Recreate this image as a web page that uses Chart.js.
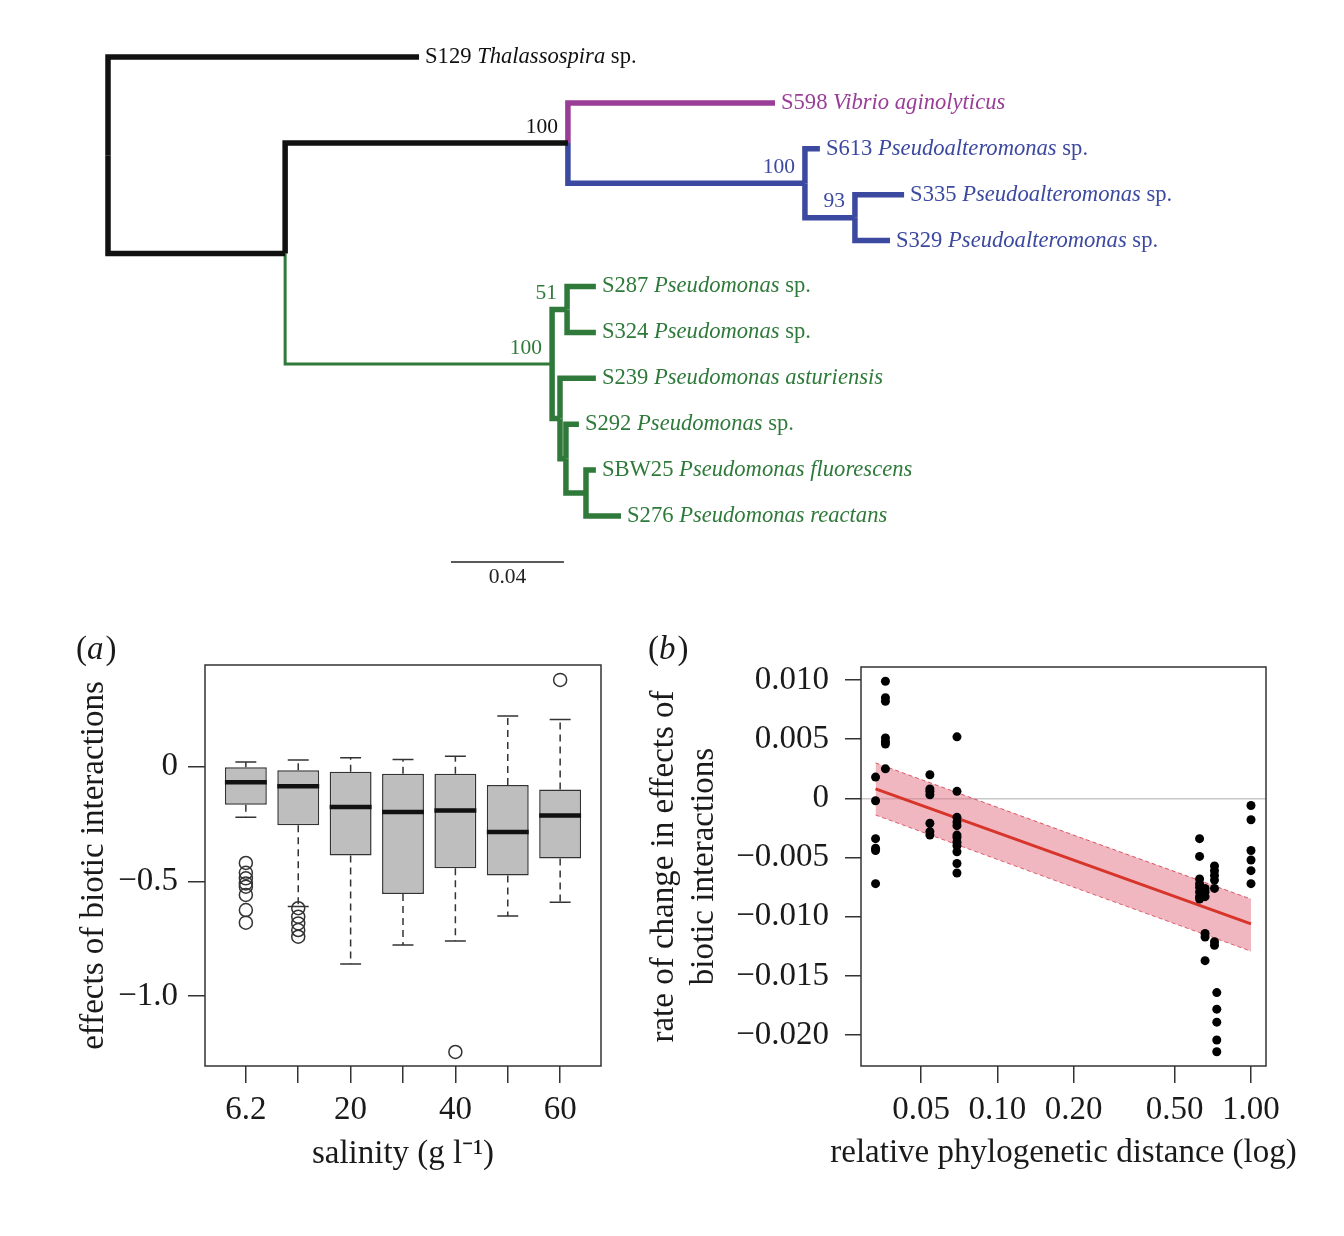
<!DOCTYPE html>
<html>
<head>
  <title>Phylogeny and biotic interactions</title>
  <script src="https://cdn.jsdelivr.net/npm/chart.js"></script>
  <style>
    body { margin: 0; background: #fff; }
    #wrap { position: relative; width: 1344px; height: 1236px; }
    canvas { position: absolute; }
    #treeChart { left: 0; top: 0; }
    #boxChart { left: 0; top: 620px; }
    #distChart { left: 640px; top: 620px; }
  </style>
</head>
<body>
<div id="wrap">
  <canvas id="treeChart" width="1344" height="600"></canvas>
  <canvas id="boxChart" width="640" height="600"></canvas>
  <canvas id="distChart" width="704" height="600"></canvas>
</div>

<script>
// ---- tree: node, parent, cumulative branch length from the root ----
const nodeIds    = ['root','S129','A','B','S598','C','S613','D','S335','S329','E','F','S287','S324','G','S239','H','S292','J','SBW25','S276'];
const nodeParent = [null,'root','root','A','B','B','C','C','D','D','A','E','F','F','E','G','G','H','H','J','J'];
const nodeDepth  = [0,0.1101,0.0627,0.1628,0.2361,0.2467,0.2520,0.2644,0.2818,0.2768,0.1572,0.1625,0.1727,0.1727,0.1600,0.1727,0.1621,0.1667,0.1692,0.1727,0.1816];
const nodeClade  = ['out','out','out','out','vib','alt','alt','alt','alt','alt','pse','pse','pse','pse','pse','pse','pse','pse','pse','pse','pse'];

// tips, top to bottom
const tipIds    = ['S129','S598','S613','S335','S329','S287','S324','S239','S292','SBW25','S276'];
const tipTaxa   = ['Thalassospira','Vibrio aginolyticus','Pseudoalteromonas','Pseudoalteromonas','Pseudoalteromonas',
                   'Pseudomonas','Pseudomonas','Pseudomonas asturiensis','Pseudomonas','Pseudomonas fluorescens','Pseudomonas reactans'];
const tipSuffix = [' sp.','',' sp.',' sp.',' sp.',' sp.',' sp.','',' sp.','',''];

// bootstrap support
const bootNodes  = ['B','C','D','F','E'];
const bootValues = [100,100,93,51,100];

const scaleBarStart = 0.1214;
const scaleBarLength = 0.04;

// ---- (a) boxplots by salinity ----
const salinityPos    = [1,2,3,4,5,6,7];
const salinityLabels = ['6.2','','20','','40','','60'];
const whiskerHigh = [0.020, 0.028, 0.038, 0.031, 0.045, 0.220, 0.205];
const boxQ3       = [-0.003, -0.016, -0.023, -0.032, -0.032, -0.080, -0.100];
const boxMedian   = [-0.068, -0.086, -0.176, -0.198, -0.192, -0.285, -0.213];
const boxQ1       = [-0.166, -0.256, -0.387, -0.555, -0.443, -0.475, -0.400];
const whiskerLow  = [-0.221, -0.610, -0.860, -0.777, -0.760, -0.651, -0.591];
const outlierPos   = [1,1,1,1,1,1,1,1,2,2,2,2,2,5,7];
const outlierValue = [-0.420,-0.463,-0.487,-0.509,-0.523,-0.559,-0.625,-0.680,-0.617,-0.654,-0.683,-0.712,-0.741,-1.243,0.377];
const yTicksA  = [0, -0.5, -1.0];
const yLabelsA = ['0', '\u22120.5', '\u22121.0'];

// ---- (b) rate of change vs phylogenetic distance ----
const distX = [
  0.0331,0.0331,0.0331,0.0331,0.0331,0.0331,
  0.0362,0.0362,0.0362,0.0362,0.0362,0.0362,0.0362,
  0.0542,0.0542,0.0542,0.0542,0.0542,0.0542,0.0542,
  0.0693,0.0693,0.0693,0.0693,0.0693,0.0693,0.0693,0.0693,0.0693,0.0693,0.0693,0.0693,
  0.627,0.627,0.627,0.627,0.627,0.627,0.627,0.627,
  0.659,0.659,0.659,0.659,0.659,0.659,
  0.718,0.718,0.718,0.718,0.718,0.718,0.718,
  0.733,0.733,0.733,0.733,0.733,
  1.0,1.0,1.0,1.0,1.0,1.0
];
const rateY = [
  0.0018,-0.0002,-0.0034,-0.0042,-0.0044,-0.0072,
  0.0099,0.0085,0.0082,0.0051,0.0048,0.0046,0.0025,
  0.0020,0.0008,0.0006,0.0003,-0.0021,-0.0028,-0.0031,
  0.0052,0.0006,-0.0016,-0.0020,-0.0023,-0.0031,-0.0033,-0.0037,-0.0040,-0.0045,-0.0055,-0.0063,
  -0.0034,-0.0049,-0.0068,-0.0072,-0.0075,-0.0079,-0.0083,-0.0085,
  -0.0076,-0.0079,-0.0083,-0.0114,-0.0117,-0.0137,
  -0.0057,-0.0061,-0.0065,-0.0069,-0.0076,-0.0121,-0.0124,
  -0.0164,-0.0178,-0.0189,-0.0204,-0.0214,
  -0.0006,-0.0018,-0.0044,-0.0052,-0.0061,-0.0072
];
const fitX = [0.0331, 1.0];
const fitY = [0.0008, -0.0106];
const bandX     = [0.0331, 0.2, 1.0];
const bandUpper = [0.0030, -0.0031, -0.0085];
const bandLower = [-0.0014, -0.0075, -0.0129];
const xTicksB  = [0.05, 0.1, 0.2, 0.5, 1.0];
const xLabelsB = ['0.05','0.10','0.20','0.50','1.00'];
const yTicksB  = [0.01, 0.005, 0, -0.005, -0.01, -0.015, -0.02];
const yLabelsB = ['0.010','0.005','0','\u22120.005','\u22120.010','\u22120.015','\u22120.020'];

const SERIF = '"Liberation Serif", "Times New Roman", serif';
Chart.defaults.font.family = SERIF;
Chart.defaults.color = '#1a1a1a';

const cladeColor = { out: '#111111', vib: '#9a3d97', alt: '#3c49a0', pse: '#2f7a3a' };

// y position of every node: tips by order, inner nodes midway between first and last child
const nodeY = {};
function placeY(id) {
  const t = tipIds.indexOf(id);
  if (t >= 0) return (nodeY[id] = t);
  const kids = nodeIds.filter((n, i) => nodeParent[i] === id).map(placeY);
  return (nodeY[id] = (kids[0] + kids[kids.length - 1]) / 2);
}
placeY('root');
const depthOf = id => nodeDepth[nodeIds.indexOf(id)];

const branchSets = nodeIds.slice(1).map((id, k) => {
  const i = k + 1, p = nodeParent[i];
  return {
    data: [
      { x: depthOf(p), y: nodeY[p] },
      { x: depthOf(p), y: nodeY[id] },
      { x: nodeDepth[i], y: nodeY[id] }
    ],
    showLine: true,
    pointRadius: 0,
    borderColor: cladeColor[nodeClade[i]],
    borderWidth: id === 'E' ? 3 : 5.5,
    borderJoinStyle: 'miter',
    borderCapStyle: 'butt'
  };
});
const scaleBarRow = tipIds.length;
branchSets.push({
  data: [{ x: scaleBarStart, y: scaleBarRow }, { x: scaleBarStart + scaleBarLength, y: scaleBarRow }],
  showLine: true, pointRadius: 0, borderColor: '#222', borderWidth: 1.5
});

const treeText = {
  id: 'treeText',
  afterDatasetsDraw(chart) {
    const { ctx, scales: { x, y } } = chart;
    ctx.save();
    ctx.textBaseline = 'middle';
    tipIds.forEach((id, t) => {
      const i = nodeIds.indexOf(id);
      let px = x.getPixelForValue(nodeDepth[i]) + 6;
      const py = y.getPixelForValue(t);
      ctx.fillStyle = cladeColor[nodeClade[i]];
      ctx.textAlign = 'left';
      const parts = [[id + ' ', ''], [tipTaxa[t], 'italic '], [tipSuffix[t], '']];
      parts.forEach(([s, st]) => {
        if (!s) return;
        ctx.font = st + '22.6px ' + SERIF;
        ctx.fillText(s, px, py);
        px += ctx.measureText(s).width;
      });
    });
    ctx.font = '21.5px ' + SERIF;
    ctx.textAlign = 'right';
    bootNodes.forEach((id, b) => {
      const i = nodeIds.indexOf(id);
      ctx.fillStyle = cladeColor[nodeClade[i === 3 ? 0 : i]];
      ctx.fillText(String(bootValues[b]), x.getPixelForValue(nodeDepth[i]) - 10, y.getPixelForValue(nodeY[id]) - 16);
    });
    ctx.fillStyle = '#222';
    ctx.textAlign = 'center';
    ctx.fillText(String(scaleBarLength), x.getPixelForValue(scaleBarStart + scaleBarLength / 2), y.getPixelForValue(scaleBarRow) + 15);
    ctx.restore();
  }
};

new Chart(document.getElementById('treeChart'), {
  type: 'scatter',
  data: { datasets: branchSets },
  options: {
    responsive: false,
    animation: false,
    layout: { padding: 0 },
    plugins: { legend: { display: false }, tooltip: { enabled: false } },
    scales: {
      x: { type: 'linear', display: false, min: -0.03823, max: 0.43752 },
      y: { type: 'linear', display: false, reverse: true, min: -1.2418, max: 11.83 }
    }
  },
  plugins: [treeText]
});

const framePlugin = {
  id: 'frame',
  afterDraw(chart) {
    const { ctx, chartArea: a } = chart;
    ctx.save();
    ctx.strokeStyle = '#333';
    ctx.lineWidth = 1.5;
    ctx.strokeRect(a.left, a.top, a.right - a.left, a.bottom - a.top);
    ctx.restore();
  }
};

// panel letter, plus an optional x caption drawn at full width (axis titles get squeezed to the axis length)
const panelTag = {
  id: 'panelTag',
  afterDraw(chart, args, opts) {
    const ctx = chart.ctx;
    ctx.save();
    ctx.fillStyle = '#1a1a1a';
    ctx.textBaseline = 'middle';
    ctx.textAlign = 'left';
    let px = opts.x;
    [['(', ''], [opts.letter, 'italic '], [')', '']].forEach(([s, st]) => {
      ctx.font = st + '33px ' + SERIF;
      ctx.fillText(s, px, opts.y);
      px += ctx.measureText(s).width + (st ? 2 : 0);
    });
    if (opts.caption) {
      const a = chart.chartArea;
      ctx.font = '33px ' + SERIF;
      ctx.textAlign = 'center';
      ctx.fillText(opts.caption, (a.left + a.right) / 2, opts.captionY);
    }
    ctx.restore();
  }
};

const tickFont = { size: 33 };

// ---- panel (a) ----
const medianPts = [], whiskerPts = [], capPts = [];
salinityPos.forEach((p, i) => {
  medianPts.push({ x: p - 0.4, y: boxMedian[i] }, { x: p + 0.4, y: boxMedian[i] }, { x: p, y: null });
  whiskerPts.push({ x: p, y: boxQ3[i] }, { x: p, y: whiskerHigh[i] }, { x: p, y: null },
                  { x: p, y: boxQ1[i] }, { x: p, y: whiskerLow[i] }, { x: p, y: null });
  capPts.push({ x: p - 0.2, y: whiskerHigh[i] }, { x: p + 0.2, y: whiskerHigh[i] }, { x: p, y: null },
              { x: p - 0.2, y: whiskerLow[i] }, { x: p + 0.2, y: whiskerLow[i] }, { x: p, y: null });
});

new Chart(document.getElementById('boxChart'), {
  type: 'bar',
  data: {
    datasets: [
      { type: 'line', data: medianPts, borderColor: '#111', borderWidth: 4.5, pointRadius: 0, spanGaps: false, borderCapStyle: 'butt' },
      { type: 'line', data: outlierPos.map((p, i) => ({ x: p, y: outlierValue[i] })), showLine: false,
        pointRadius: 6.5, pointBorderWidth: 1.5, pointBorderColor: '#333', pointBackgroundColor: 'rgba(0,0,0,0)' },
      { type: 'line', data: capPts, borderColor: '#333', borderWidth: 1.5, pointRadius: 0, spanGaps: false },
      { type: 'line', data: whiskerPts, borderColor: '#333', borderWidth: 1.5, borderDash: [7, 5], pointRadius: 0, spanGaps: false },
      { type: 'bar', data: salinityPos.map((p, i) => ({ x: p, y: [boxQ1[i], boxQ3[i]] })),
        backgroundColor: '#bebebe', borderColor: '#333', borderWidth: 1.5, borderSkipped: false,
        barPercentage: 1.0, categoryPercentage: 0.8 }
    ]
  },
  options: {
    responsive: false,
    animation: false,
    layout: { padding: { left: 0, top: 45, right: 39, bottom: 0 } },
    plugins: { legend: { display: false }, tooltip: { enabled: false }, panelTag: { letter: 'a', x: 76, y: 30 } },
    scales: {
      x: {
        type: 'linear', min: 0.22, max: 7.78, offset: false,
        border: { display: false },
        grid: { offset: false, drawOnChartArea: false, tickLength: 17, color: '#333', lineWidth: 1.5 },
        afterBuildTicks: s => { s.ticks = salinityPos.map(v => ({ value: v })); },
        afterFit: s => { s.height = 154; },
        ticks: { autoSkip: false, maxRotation: 0, padding: 8, font: tickFont, callback: (v, i) => salinityLabels[i] },
        title: { display: true, text: 'salinity (g l\u207B\u00B9)', font: { size: 33 }, padding: { top: 0, bottom: 46 } }
      },
      y: {
        type: 'linear', min: -1.304, max: 0.442,
        border: { display: false },
        grid: { drawOnChartArea: false, tickLength: 17, color: '#333', lineWidth: 1.5 },
        afterBuildTicks: s => { s.ticks = yTicksA.map(v => ({ value: v })); },
        afterFit: s => { s.width = 205; },
        ticks: { padding: 10, font: tickFont, callback: (v, i) => yLabelsA[i] },
        title: { display: true, text: 'effects of biotic interactions', font: { size: 33 }, padding: { top: 75, bottom: 0 } }
      }
    }
  },
  plugins: [framePlugin, panelTag]
});

// ---- panel (b) ----
new Chart(document.getElementById('distChart'), {
  type: 'scatter',
  data: {
    datasets: [
      { data: distX.map((x, i) => ({ x, y: rateY[i] })), pointRadius: 4.5, pointBackgroundColor: '#000', pointBorderColor: '#000', pointBorderWidth: 0 },
      { data: fitX.map((x, i) => ({ x, y: fitY[i] })), showLine: true, pointRadius: 0, borderColor: '#d8352a', borderWidth: 3 },
      { data: bandX.map((x, i) => ({ x, y: bandUpper[i] })), showLine: true, pointRadius: 0,
        borderColor: 'rgba(214,60,72,0.85)', borderWidth: 1, borderDash: [4, 3],
        fill: '+1', backgroundColor: 'rgba(226,112,132,0.5)' },
      { data: bandX.map((x, i) => ({ x, y: bandLower[i] })), showLine: true, pointRadius: 0,
        borderColor: 'rgba(214,60,72,0.85)', borderWidth: 1, borderDash: [4, 3] }
    ]
  },
  options: {
    responsive: false,
    animation: false,
    layout: { padding: { left: 0, top: 47, right: 78, bottom: 0 } },
    plugins: {
      legend: { display: false }, tooltip: { enabled: false },
      panelTag: { letter: 'b', x: 8, y: 30, caption: 'relative phylogenetic distance (log)', captionY: 533 }
    },
    scales: {
      x: {
        type: 'logarithmic', min: 0.029, max: 1.146,
        border: { display: false },
        grid: { drawOnChartArea: false, tickLength: 17, color: '#333', lineWidth: 1.5 },
        afterBuildTicks: s => { s.ticks = xTicksB.map(v => ({ value: v })); },
        afterFit: s => { s.height = 154; },
        ticks: { autoSkip: false, maxRotation: 0, padding: 8, font: tickFont, callback: (v, i) => xLabelsB[i] }
      },
      y: {
        type: 'linear', min: -0.0226, max: 0.0111,
        border: { display: false },
        grid: {
          drawOnChartArea: true, tickLength: 16, lineWidth: 1.5, tickColor: '#333', tickWidth: 1.5,
          color: c => (c.tick && c.tick.value === 0 ? '#c8c8c8' : 'rgba(0,0,0,0)')
        },
        afterBuildTicks: s => { s.ticks = yTicksB.map(v => ({ value: v })); },
        afterFit: s => { s.width = 221; },
        ticks: { padding: 16, font: tickFont, callback: (v, i) => yLabelsB[i] },
        title: { display: true, text: ['rate of change in effects of', 'biotic interactions'], font: { size: 33, lineHeight: 1.2 }, padding: { top: 5, bottom: 0 } }
      }
    }
  },
  plugins: [framePlugin, panelTag]
});
</script>
</body>
</html>
